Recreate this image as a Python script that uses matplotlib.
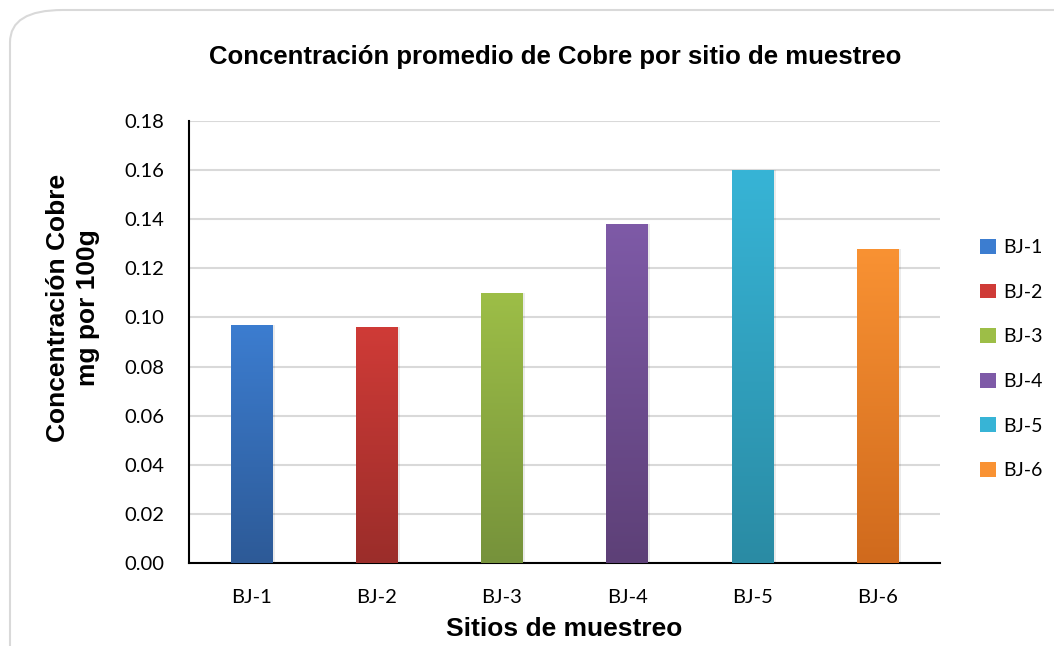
import numpy as np
import matplotlib
matplotlib.use('Agg')
import matplotlib.pyplot as plt
from matplotlib.patches import FancyBboxPatch
from matplotlib.colors import LinearSegmentedColormap

sitios = ['BJ-1', 'BJ-2', 'BJ-3', 'BJ-4', 'BJ-5', 'BJ-6']
cobre = [0.097, 0.096, 0.110, 0.138, 0.160, 0.128]
# top / bottom colours of each bar gradient
col_top = ['#3C7DD0', '#CF3B37', '#9DBE47', '#7E5AA7', '#37B4D6', '#F99233']
col_bot = ['#2D5A97', '#9B2D2A', '#76923B', '#5D4077', '#2A8BA4', '#D06A1D']
yticks = [0.00, 0.02, 0.04, 0.06, 0.08, 0.10, 0.12, 0.14, 0.16, 0.18]

plt.rcParams['font.family'] = ['Liberation Sans', 'DejaVu Sans']
tick_font = ['Lato', 'DejaVu Sans']

fig = plt.figure(figsize=(10.54, 6.46), dpi=100)

# rounded chart frame
frame = FancyBboxPatch((10/1054, -0.1), 1.2, 1.1 - 10/646,
                       boxstyle='round,pad=0,rounding_size=0.05',
                       transform=fig.transFigure, facecolor='white',
                       edgecolor='#D9D9D9', linewidth=1.5, zorder=-1)
fig.patches.append(frame)

ax = fig.add_axes([189/1054, 1-563/646, 751/1054, 442/646])
ax.set_facecolor('none')

x = np.arange(len(sitios))
bars = ax.bar(x, cobre, width=0.33, color=col_top, zorder=3)

# vertical gradient fill clipped to each bar
grad = np.linspace(0, 1, 256).reshape(-1, 1)
for b, ct, cb in zip(bars, col_top, col_bot):
    cmap = LinearSegmentedColormap.from_list('g', [cb, ct])
    x0, y0 = b.get_x(), b.get_y()
    w, h = b.get_width(), b.get_height()
    # soft shadow
    ax.bar(x0 + w/2 + 0.012, h, width=w + 0.02, color='#000000', alpha=0.08, zorder=2)
    im = ax.imshow(grad, cmap=cmap, origin='lower', aspect='auto',
                   extent=[x0, x0 + w, y0, y0 + h], zorder=4)
    im.set_clip_path(b)

ax.set_xlim(-0.5, len(sitios) - 0.5)
ax.set_ylim(0, 0.18)
ax.set_yticks(yticks)
ax.set_yticklabels(['%.2f' % v for v in yticks], fontsize=14.5, family=tick_font)
ax.set_xticks(x)
ax.set_xticklabels(sitios, fontsize=14.5, family=tick_font)
ax.tick_params(length=0)
ax.tick_params(axis='y', pad=18)
ax.tick_params(axis='x', pad=19)
ax.yaxis.grid(True, color='#D9D9D9', linewidth=1.5, zorder=0)
ax.set_axisbelow(True)
for s in ['top', 'right']:
    ax.spines[s].set_visible(False)
for s in ['left', 'bottom']:
    ax.spines[s].set_color('black')
    ax.spines[s].set_linewidth(1.5)

ax.set_xlabel('Sitios de muestreo', fontsize=19, fontweight='bold')
ax.xaxis.set_label_coords(0.5, -0.122)
ax.set_ylabel('Concentración Cobre\nmg por 100g', fontsize=19, fontweight='bold',
              linespacing=1.3)
ax.yaxis.set_label_coords(-0.119, 0.577)
fig.suptitle('Concentración promedio de Cobre por sitio de muestreo',
             x=555/1054, y=1-57/646, va='center', fontsize=18.5, fontweight='bold')

leg = ax.legend(bars, sitios, loc='center left', bbox_to_anchor=(1.03, 0.4615),
                frameon=False, handlelength=0.8, handleheight=0.8,
                handletextpad=0.4, labelspacing=1.41,
                prop={'family': tick_font, 'size': 14})

fig.savefig('out.png', dpi=100)
